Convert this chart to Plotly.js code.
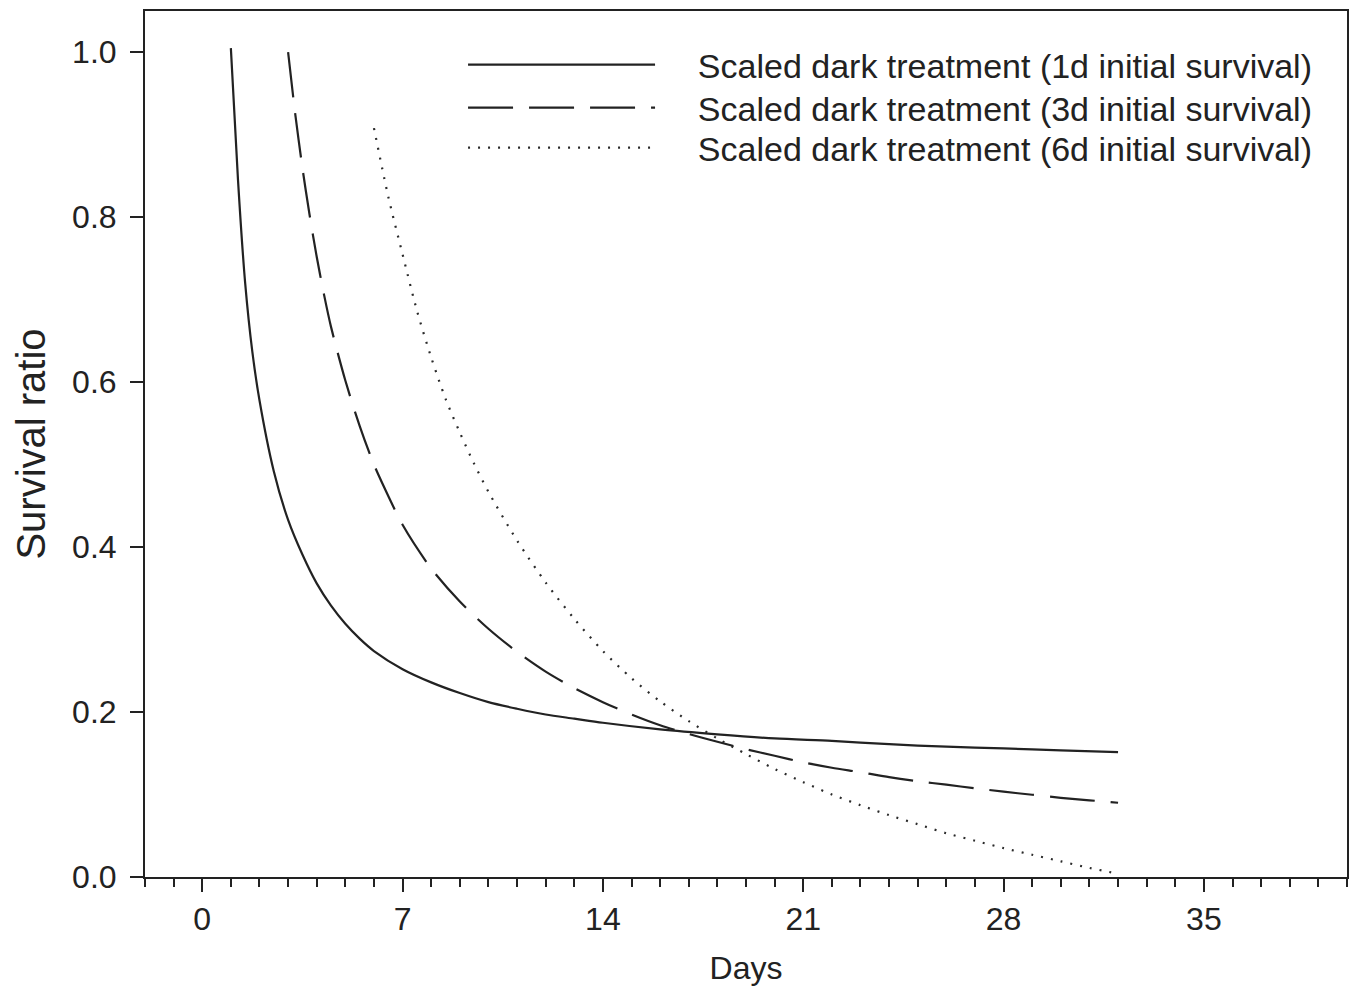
<!DOCTYPE html>
<html>
<head>
<meta charset="utf-8">
<script src="https://cdn.plot.ly/plotly-3.0.1.min.js"></script>
<style>html,body{margin:0;padding:0;background:#fff;}#chart{width:1355px;height:992px;}</style>
</head>
<body>
<div id="chart"></div>
<script>
// Data
var days1d = [1, 1.25, 1.5, 1.75, 2, 2.5, 3, 3.5, 4, 4.5, 5, 5.5, 6, 7, 8, 9, 10, 11, 12, 13, 14, 16, 18, 20, 22, 24, 26, 28, 30, 32];
var surv1d = [1.005, 0.845, 0.72, 0.637, 0.578, 0.492, 0.433, 0.391, 0.356, 0.329, 0.307, 0.289, 0.274, 0.252, 0.236, 0.223, 0.212, 0.204, 0.197, 0.192, 0.187, 0.179, 0.173, 0.168, 0.165, 0.161, 0.158, 0.156, 0.1535, 0.1515];

var days3d = [3, 3.25, 3.5, 3.75, 4, 4.25, 4.5, 5, 5.5, 6, 6.5, 7, 8, 9, 10, 11, 12, 13, 14, 15, 16, 17, 18, 19, 20, 21, 22, 23, 24, 25, 26, 27, 28, 29, 30, 31, 32];
var surv3d = [1.0, 0.925, 0.86, 0.803, 0.752, 0.707, 0.667, 0.602, 0.547, 0.50, 0.462, 0.427, 0.374, 0.334, 0.301, 0.273, 0.249, 0.229, 0.212, 0.197, 0.184, 0.1735, 0.164, 0.155, 0.147, 0.139, 0.1325, 0.127, 0.121, 0.116, 0.112, 0.1075, 0.1035, 0.0997, 0.096, 0.093, 0.090];

var days6d = [6, 6.5, 7, 7.5, 8, 8.5, 9, 9.5, 10, 11, 12, 13, 14, 15, 16, 17, 18, 19, 20, 21, 22, 23, 24, 25, 26, 27, 28, 29, 30, 31, 32];
var surv6d = [0.908, 0.825, 0.755, 0.687, 0.630, 0.580, 0.539, 0.501, 0.467, 0.408, 0.357, 0.313, 0.274, 0.241, 0.213, 0.189, 0.168, 0.149, 0.131, 0.115, 0.100, 0.087, 0.075, 0.064, 0.053, 0.044, 0.035, 0.027, 0.019, 0.011, 0.004];

var seriesNames = [
  'Scaled dark treatment (1d initial survival)',
  'Scaled dark treatment (3d initial survival)',
  'Scaled dark treatment (6d initial survival)'
];

var ink = '#222222';
var fontFam = 'Liberation Sans, Arial, Helvetica, sans-serif';
var pad = '\u00a0\u00a0\u00a0\u00a0';

var traces = [
  {x: days1d, y: surv1d, name: pad + seriesNames[0], mode: 'lines', legend: 'legend',
   line: {color: ink, width: 2.2, shape: 'spline', smoothing: 0.8, dash: 'solid'}},
  {x: days3d, y: surv3d, name: pad + seriesNames[1], mode: 'lines', legend: 'legend2',
   line: {color: ink, width: 2.2, shape: 'spline', smoothing: 0.8, dash: '45px,16px'}},
  {x: days6d, y: surv6d, name: pad + seriesNames[2], mode: 'lines', legend: 'legend3',
   line: {color: '#2a2a2a', width: 2.2, shape: 'spline', smoothing: 0.8, dash: '2px,8px'}}
];

function legendAt(yPaper) {
  return {
    x: 0.2646, y: yPaper, xanchor: 'left', yanchor: 'middle',
    bgcolor: 'rgba(0,0,0,0)', borderwidth: 0,
    font: {family: fontFam, size: 34, color: ink},
    itemwidth: 187
  };
}

var layout = {
  width: 1355, height: 992,
  margin: {l: 145, r: 8, t: 11, b: 115},
  paper_bgcolor: '#ffffff', plot_bgcolor: '#ffffff',
  font: {family: fontFam, size: 32, color: ink},
  showlegend: true,
  legend: legendAt(0.9376),
  legend2: legendAt(0.888),
  legend3: legendAt(0.8418),
  xaxis: {
    range: [-2, 40], tick0: 0, dtick: 7,
    ticks: 'outside', ticklen: 13, tickwidth: 2, tickcolor: ink,
    minor: {dtick: 1, tick0: 0, ticks: 'outside', ticklen: 8, tickwidth: 2, tickcolor: ink, showgrid: false},
    showline: true, linewidth: 2, linecolor: ink, mirror: true,
    showgrid: false, zeroline: false,
    tickfont: {family: fontFam, size: 32, color: ink},
    title: {text: 'Days', font: {family: fontFam, size: 32, color: ink}, standoff: 20}
  },
  yaxis: {
    range: [0, 1.05], tick0: 0, dtick: 0.2, tickformat: '.1f',
    ticks: 'outside', ticklen: 13, tickwidth: 2, tickcolor: ink,
    ticklabelstandoff: 7,
    showline: true, linewidth: 2, linecolor: ink, mirror: true,
    showgrid: false, zeroline: false,
    tickfont: {family: fontFam, size: 32, color: ink},
    title: {text: 'Survival ratio', font: {family: fontFam, size: 40, color: ink}, standoff: 14}
  }
};

Plotly.newPlot('chart', traces, layout, {staticPlot: true, displayModeBar: false});
</script>
</body>
</html>
